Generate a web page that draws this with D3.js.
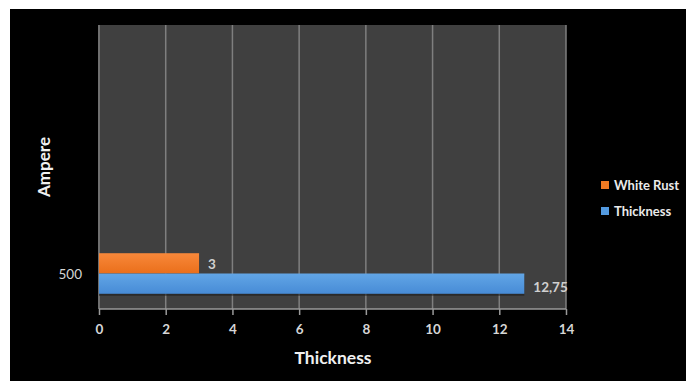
<!DOCTYPE html>
<html><head><meta charset="utf-8">
<script src="https://cdn.jsdelivr.net/npm/d3@7"></script>
<style>html,body{margin:0;padding:0;background:#fff;}svg{display:block;}</style>
</head><body>
<svg id="chart" width="688" height="381"></svg>
<script>
const categories = ["500", "", "", ""];
const seriesNames = ["White Rust", "Thickness"];
const whiteRust = [3, null, null, null];
const thickness = [12.75, null, null, null];
const xTicks = [0, 2, 4, 6, 8, 10, 12, 14];
const xTitle = "Thickness";
const yTitle = "Ampere";
const colors = ["#f07a22", "#539ae0"];

const FONT = "Lato, 'Open Sans', sans-serif";
const svg = d3.select("#chart");
const defs = svg.append("defs");
const gradO = defs.append("linearGradient").attr("id","gO").attr("x1",0).attr("y1",0).attr("x2",0).attr("y2",1);
gradO.append("stop").attr("offset","0%").attr("stop-color","#f8883a");
gradO.append("stop").attr("offset","100%").attr("stop-color","#ea6f1b");
const gradB = defs.append("linearGradient").attr("id","gB").attr("x1",0).attr("y1",0).attr("x2",0).attr("y2",1);
gradB.append("stop").attr("offset","0%").attr("stop-color","#62a6e6");
gradB.append("stop").attr("offset","100%").attr("stop-color","#478bd6");
const fills = ["url(#gO)", "url(#gB)"];

svg.append("rect").attr("x",10).attr("y",9).attr("width",676).attr("height",372).attr("fill","#000");

const m = {left: 99, right: 566, top: 25, bottom: 309};
const x = d3.scaleLinear().domain([0, 14]).range([m.left, m.right]);
const y = d3.scaleBand().domain(d3.range(categories.length)).range([m.bottom, m.top]).paddingInner(0).paddingOuter(0);
const sub = d3.scaleBand().domain([0, 1]).range([0, y.bandwidth()]).paddingInner(0).paddingOuter(0.75);

svg.append("rect").attr("x", m.left - 1).attr("y", m.top).attr("width", m.right - m.left + 1).attr("height", m.bottom - m.top).attr("fill", "#404040");

svg.append("g").selectAll("line").data(xTicks).join("line")
  .attr("x1", d => x(d)).attr("x2", d => x(d)).attr("y1", m.top).attr("y2", m.bottom)
  .attr("stroke", "#7f7f7f").attr("stroke-width", 1.5);

const series = [whiteRust, thickness];
series.forEach((vals, si) => {
  const g = svg.append("g");
  vals.forEach((v, ci) => {
    if (v == null) return;
    const yy = y(ci) + sub(si);
    g.append("rect").attr("x", x(0)).attr("y", yy + 2).attr("width", x(v) - x(0)).attr("height", sub.bandwidth())
      .attr("fill", "#1c1c1c").attr("opacity", 0.6);
    g.append("rect").attr("x", x(0)).attr("y", yy).attr("width", x(v) - x(0)).attr("height", sub.bandwidth())
      .attr("fill", fills[si]);
    g.append("text").attr("x", x(v) + 9).attr("y", yy + sub.bandwidth()/2 + (si === 1 ? 3 : 1))
      .attr("dominant-baseline", "central").attr("fill", "#d0d0d0")
      .attr("font-family", FONT).attr("font-size", 13.5).attr("font-weight", 700)
      .text(String(v).replace(".", ","));
  });
});

const xAxis = d3.axisBottom(x).tickValues(xTicks).tickSize(6).tickPadding(9).tickFormat(d3.format("d"));
const gx = svg.append("g").attr("transform", `translate(0,${m.bottom})`).call(xAxis);
gx.select(".domain").attr("stroke", "#9a9a9a").attr("stroke-width", 1.5).attr("d", `M${m.left},0H${m.right}`);
gx.selectAll(".tick line").attr("stroke", "#9a9a9a").attr("stroke-width", 1.5);
gx.selectAll(".tick text").attr("fill", "#d6d6d6").attr("font-family", FONT)
  .attr("font-size", 13.5).attr("font-weight", 700);

const yAxis = d3.axisLeft(y).tickSize(0).tickPadding(17).tickFormat(i => categories[i]);
const gy = svg.append("g").attr("transform", `translate(${m.left},0)`).call(yAxis);
gy.select(".domain").remove();
gy.selectAll(".tick text").attr("fill", "#d6d6d6").attr("font-family", FONT)
  .attr("font-size", 13.5).attr("font-weight", 400).attr("dy", "0.35em").attr("y", 1);

svg.append("text").attr("x", 333).attr("y", 357).attr("text-anchor", "middle").attr("dominant-baseline", "central")
  .attr("fill", "#f0f0f0").attr("font-family", FONT).attr("font-size", 17.5).attr("font-weight", 700)
  .text(xTitle);
svg.append("text").attr("transform", `translate(43,${(m.top + m.bottom)/2}) rotate(-90)`).attr("text-anchor", "middle")
  .attr("dominant-baseline", "central").attr("fill", "#f0f0f0").attr("font-family", FONT)
  .attr("font-size", 17).attr("font-weight", 700).text(yTitle);

const lg = svg.append("g").attr("transform", "translate(601,181)");
seriesNames.forEach((n, i) => {
  const gi = lg.append("g").attr("transform", `translate(0,${i * 26})`);
  gi.append("rect").attr("width", 8).attr("height", 8).attr("fill", colors[i]);
  gi.append("text").attr("x", 13).attr("y", 4).attr("dominant-baseline", "central").attr("fill", "#eaeaea")
    .attr("font-family", FONT).attr("font-size", 13).attr("font-weight", 700).text(n);
});
</script>
</body></html>
